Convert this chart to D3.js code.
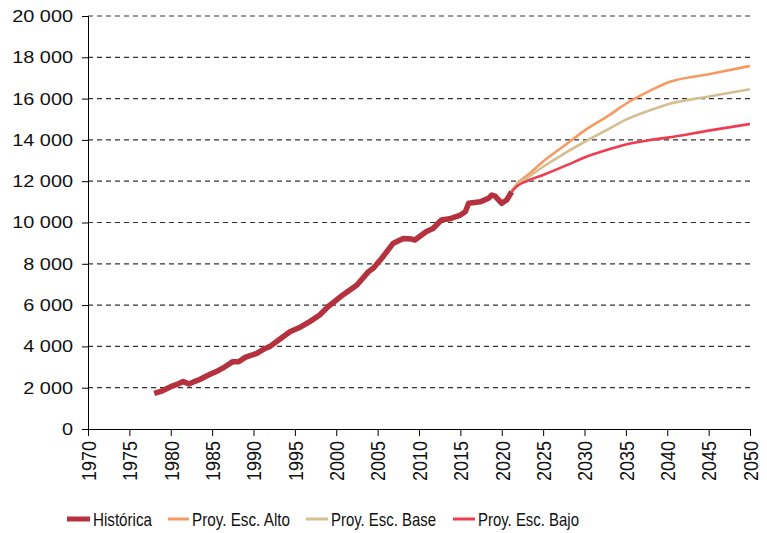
<!DOCTYPE html>
<html>
<head>
<meta charset="utf-8">
<script src="https://cdnjs.cloudflare.com/ajax/libs/d3/7.8.5/d3.min.js"></script>
<style>
  body { margin: 0; background: #fff; }
  svg { display: block; font-family: "Liberation Sans", Arial, sans-serif; }
</style>
</head>
<body>
<div id="chart"></div>
<script>
// historic series (year, value)
var histYears = [1978, 1979, 1980, 1981, 1981.5, 1982.2, 1983, 1983.5, 1984.5, 1985.5, 1986.5, 1987.5, 1988.2, 1989, 1990.4, 1991.4, 1992, 1993, 1994.4, 1995.5, 1996.8, 1998, 1999, 2000.5, 2002.5, 2003.9, 2004.5, 2005.5, 2006.9, 2008.1, 2009.1, 2009.5, 2010.9, 2011.7, 2012.7, 2013.7, 2015, 2015.6, 2016, 2017.4, 2018.4, 2018.8, 2019.2, 2020, 2020.6, 2021.2];
var histValues = [1720, 1850, 2050, 2200, 2300, 2180, 2320, 2400, 2600, 2780, 3000, 3260, 3260, 3470, 3660, 3900, 4000, 4300, 4710, 4900, 5200, 5520, 5920, 6400, 6970, 7620, 7800, 8270, 9000, 9230, 9200, 9150, 9560, 9710, 10120, 10180, 10360, 10520, 10930, 11000, 11170, 11330, 11280, 10930, 11090, 11490];

// projections
var projYears = [2021.2, 2022, 2023, 2025, 2028, 2030, 2033, 2035, 2038, 2040, 2045, 2050];
var altoValues = [11490, 11950, 12250, 12950, 13850, 14450, 15200, 15750, 16400, 16770, 17180, 17580];
var baseValues = [11490, 11900, 12150, 12700, 13450, 13900, 14550, 14980, 15450, 15720, 16100, 16450];
var bajoValues = [11490, 11800, 12000, 12300, 12800, 13150, 13550, 13780, 14000, 14110, 14450, 14770];

var xTicks = [1970, 1975, 1980, 1985, 1990, 1995, 2000, 2005, 2010, 2015, 2020, 2025, 2030, 2035, 2040, 2045, 2050];
var yTicks = [0, 2000, 4000, 6000, 8000, 10000, 12000, 14000, 16000, 18000, 20000];

var legendNames = ["Histórica", "Proy. Esc. Alto", "Proy. Esc. Base", "Proy. Esc. Bajo"];
var colors = ["#b5313d", "#f79a62", "#d6bd92", "#ef3d4f"];

var W = 767, H = 533;
var margin = {top: 16, right: 17, bottom: 104, left: 88};
var width = W - margin.left - margin.right,
    height = H - margin.top - margin.bottom;

// the labels in the picture are a bit wider than plain Arial
var stretch = 1.17;

var svg = d3.select("#chart").append("svg")
    .attr("width", W)
    .attr("height", H);

var g = svg.append("g")
    .attr("transform", "translate(" + margin.left + "," + margin.top + ")");

var x = d3.scaleLinear().domain([1970, 2050]).range([0, width]);
var y = d3.scaleLinear().domain([0, 20000]).range([height, 0]);

var fmt = d3.formatLocale({decimal: ",", thousands: " ", grouping: [3], currency: ["", ""]}).format(",");

// gridlines
g.append("g")
    .selectAll("line")
    .data(yTicks.filter(function(d) { return d > 0; }))
    .enter().append("line")
    .attr("x1", 0)
    .attr("x2", width)
    .attr("y1", function(d) { return y(d); })
    .attr("y2", function(d) { return y(d); })
    .attr("stroke", "#333")
    .attr("stroke-width", 1.2)
    .attr("stroke-dasharray", "5,4");

// y axis
var yAxis = g.append("g")
    .call(d3.axisLeft(y).tickValues(yTicks).tickFormat(fmt).tickSize(6).tickPadding(9));
yAxis.attr("font-size", null).attr("font-family", null);
yAxis.select(".domain").attr("stroke", "#000");
yAxis.selectAll("text")
    .style("font-size", "17px")
    .attr("fill", "#111")
    .attr("x", -15 / stretch)
    .attr("transform", "scale(" + stretch + ",1)");

// x axis
var xAxis = g.append("g")
    .attr("transform", "translate(0," + height + ")")
    .call(d3.axisBottom(x).tickValues(xTicks).tickFormat(d3.format("d")).tickSize(7).tickPadding(5));
xAxis.attr("font-size", null).attr("font-family", null);
xAxis.select(".domain").attr("stroke", "#000");
xAxis.selectAll("text")
    .style("font-size", "18px")
    .attr("fill", "#111")
    .style("text-anchor", "end")
    .attr("y", 0)
    .attr("transform", "translate(0,12)scale(" + stretch + ",1)rotate(-90)")
    .attr("dx", 0)
    .attr("dy", "0.35em");

// lines
var line = d3.line()
    .x(function(d) { return x(d[0]); })
    .y(function(d) { return y(d[1]); });

var projLine = d3.line()
    .curve(d3.curveMonotoneX)
    .x(function(d) { return x(d[0]); })
    .y(function(d) { return y(d[1]); });

var proj = [altoValues, baseValues, bajoValues];
proj.forEach(function(vals, i) {
    g.append("path")
        .datum(d3.zip(projYears, vals))
        .attr("fill", "none")
        .attr("stroke", colors[i + 1])
        .attr("stroke-width", 2.6)
        .attr("d", projLine);
});

g.append("path")
    .datum(d3.zip(histYears, histValues))
    .attr("fill", "none")
    .attr("stroke", colors[0])
    .attr("stroke-width", 5.5)
    .attr("stroke-linejoin", "round")
    .attr("d", line);

// legend
var legendX = [67, 168, 306, 453];
var swatchW = [23, 21, 22, 22];
var textW = [59, 98, 105, 101];
var legY = 519;
var leg = svg.append("g");
legendNames.forEach(function(name, i) {
    leg.append("line")
        .attr("x1", legendX[i])
        .attr("x2", legendX[i] + swatchW[i])
        .attr("y1", legY)
        .attr("y2", legY)
        .attr("stroke", colors[i])
        .attr("stroke-width", i == 0 ? 5 : 3);
    leg.append("text")
        .attr("x", legendX[i] + swatchW[i] + 3)
        .attr("y", legY + 7)
        .attr("textLength", textW[i])
        .attr("lengthAdjust", "spacingAndGlyphs")
        .style("font-size", "19px")
        .attr("fill", "#111")
        .text(name);
});
</script>
</body>
</html>
